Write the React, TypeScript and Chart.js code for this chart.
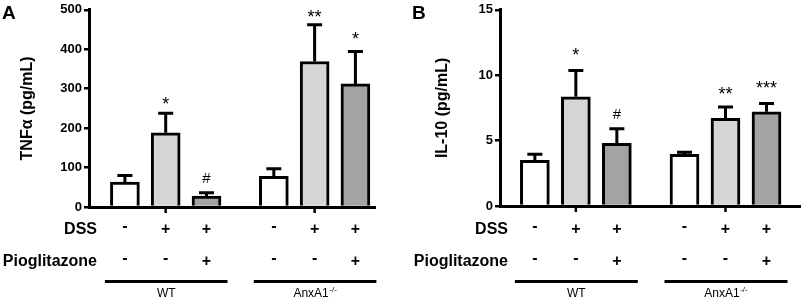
import { useEffect, useRef } from 'react';
import { Chart, registerables } from 'chart.js';

Chart.register(...registerables);

const FONT = '"Liberation Sans", Arial, Helvetica, sans-serif';

// Shared categories
const dssRow = ['-', '+', '+', '-', '+', '+'];
const pioRow = ['-', '-', '+', '-', '-', '+'];
const groupNames = ['WT', 'AnxA1'];
const groupSups = ['', '-/-'];
const barColors = ['#ffffff', '#d5d5d5', '#a3a3a3', '#ffffff', '#d5d5d5', '#a3a3a3'];

// Panel A: TNFα
const tnfValues = [63, 188, 28, 78, 369, 312];
const tnfErrors = [17, 50, 8, 19, 93, 82];
const tnfMarks = ['', '*', '#', '', '**', '*'];
const tnfMarkAt = [0, 261, 60, 0, 482, 426];

// Panel B: IL-10
const il10Values = [3.5, 8.35, 4.8, 3.95, 6.7, 7.2];
const il10Errors = [0.45, 2.0, 1.1, 0.15, 0.87, 0.63];
const il10Marks = ['', '*', '#', '', '**', '***'];
const il10MarkAt = [0, 11.57, 6.67, 0, 8.58, 9.02];

type PanelProps = {
  left: number;
  width: number;
  letter: string;
  letterX: number;
  title: string;
  titleX: number;
  values: number[];
  errors: number[];
  marks: string[];
  markAt: number[];
  yMax: number;
  yStep: number;
  axisX: number;
  zeroY: number;
  areaRight: number;
  unitPx: number;
  offset: number;
  groupGap: number;
};

function Panel(p: PanelProps) {
  const ref = useRef<HTMLCanvasElement>(null);
  useEffect(() => {
    const canvas = ref.current;
    if (!canvas) return;
    const xs = p.values.map((_, i) => p.offset + (i % 3) + Math.floor(i / 3) * (3 + p.groupGap));
    const xMax = (p.areaRight - p.axisX) / p.unitPx;

    const overlay = {
      id: 'overlay',
      afterDraw(chart: any) {
        const ctx: CanvasRenderingContext2D = chart.ctx;
        const y = chart.scales.y;
        const area = chart.chartArea;
        const bars = chart.getDatasetMeta(0).data;
        ctx.save();
        ctx.fillStyle = '#000';
        ctx.strokeStyle = '#000';

        // error bars
        ctx.lineWidth = 3;
        ctx.lineCap = 'butt';
        p.values.forEach((v, i) => {
          const bx = bars[i].x;
          const yb = y.getPixelForValue(v);
          const yt = y.getPixelForValue(v + p.errors[i]);
          ctx.beginPath();
          ctx.moveTo(bx, yb);
          ctx.lineTo(bx, yt);
          ctx.moveTo(bx - 7.5, yt);
          ctx.lineTo(bx + 7.5, yt);
          ctx.stroke();
        });

        // significance marks
        ctx.textAlign = 'center';
        ctx.textBaseline = 'alphabetic';
        p.marks.forEach((m, i) => {
          if (!m) return;
          ctx.font = m === '#' ? `15px ${FONT}` : `18px ${FONT}`;
          const met = ctx.measureText(m);
          const gb = y.getPixelForValue(p.markAt[i]);
          ctx.fillText(m, bars[i].x, gb - met.actualBoundingBoxDescent);
        });

        // group tick marks below axis
        ctx.lineWidth = 2.5;
        for (let g = 0; g < 2; g++) {
          const cx = bars[g * 3 + 1].x;
          ctx.beginPath();
          ctx.moveTo(cx, area.bottom);
          ctx.lineTo(cx, area.bottom + 6);
          ctx.stroke();
        }

        // row labels
        ctx.font = `bold 16px ${FONT}`;
        ctx.textAlign = 'right';
        ctx.fillText('DSS', p.axisX + 8, 234);
        ctx.fillText('Pioglitazone', p.axisX + 8, 266);
        ctx.textAlign = 'center';
        dssRow.forEach((s, i) => {
          ctx.fillText(s, bars[i].x, s === '-' ? 231 : 234);
        });
        pioRow.forEach((s, i) => {
          ctx.fillText(s, bars[i].x, s === '-' ? 263 : 266);
        });

        // group lines and labels
        ctx.lineWidth = 3;
        for (let g = 0; g < 2; g++) {
          const x0 = bars[g * 3].x - 20;
          const x1 = bars[g * 3 + 2].x + 21;
          ctx.beginPath();
          ctx.moveTo(x0, 281.5);
          ctx.lineTo(x1, 281.5);
          ctx.stroke();
          const cx = (x0 + x1) / 2;
          ctx.font = `12px ${FONT}`;
          const w1 = ctx.measureText(groupNames[g]).width;
          ctx.font = `8px ${FONT}`;
          const w2 = groupSups[g] ? ctx.measureText(groupSups[g]).width + 0.5 : 0;
          const start = cx - (w1 + w2) / 2;
          ctx.textAlign = 'left';
          ctx.font = `12px ${FONT}`;
          ctx.fillText(groupNames[g], start, 297);
          if (groupSups[g]) {
            ctx.font = `8px ${FONT}`;
            ctx.fillText(groupSups[g], start + w1 + 0.5, 292);
          }
          ctx.textAlign = 'center';
        }

        // y title
        ctx.save();
        ctx.translate(p.titleX, (area.top + area.bottom) / 2);
        ctx.rotate(-Math.PI / 2);
        ctx.font = `bold 16px ${FONT}`;
        ctx.textAlign = 'center';
        ctx.textBaseline = 'middle';
        ctx.fillText(p.title, 0, 0);
        ctx.restore();

        // panel letter
        ctx.font = `bold 19px ${FONT}`;
        ctx.textAlign = 'left';
        ctx.textBaseline = 'alphabetic';
        ctx.fillText(p.letter, p.letterX, 19);
        ctx.restore();
      },
    };

    const chart = new Chart(canvas, {
      type: 'bar',
      data: {
        datasets: [
          {
            data: xs.map((x, i) => ({ x, y: p.values[i] })),
            backgroundColor: barColors,
            borderColor: '#000',
            borderWidth: 3,
            borderSkipped: 'start',
            barThickness: 29,
          } as any,
        ],
      },
      options: {
        responsive: false,
        animation: false,
        devicePixelRatio: 1,
        layout: { padding: { left: 0, right: p.width - p.areaRight, top: 8, bottom: 301 - p.zeroY } },
        plugins: { legend: { display: false }, tooltip: { enabled: false }, title: { display: false } },
        scales: {
          x: {
            type: 'linear',
            min: 0,
            max: xMax,
            offset: false,
            z: 1,
            afterFit: (s: any) => {
              s.height = 0;
            },
            ticks: { display: false },
            grid: { display: false },
            border: { display: true, color: '#000', width: 3 },
          },
          y: {
            min: 0,
            max: p.yMax,
            afterFit: (s: any) => {
              s.width = p.axisX;
            },
            ticks: {
              stepSize: p.yStep,
              color: '#000',
              padding: 2,
              font: { family: FONT, size: 13, weight: 'bold' },
            },
            grid: { drawOnChartArea: false, drawTicks: true, tickLength: 5, tickColor: '#000', lineWidth: 2.5 },
            border: { display: true, color: '#000', width: 3 },
          },
        },
      } as any,
      plugins: [overlay],
    });
    return () => chart.destroy();
  }, []);
  return (
    <canvas
      ref={ref}
      width={p.width}
      height={301}
      style={{ position: 'absolute', left: p.left, top: 0, width: p.width, height: 301 }}
    />
  );
}

export default function App() {
  return (
    <div style={{ position: 'fixed', left: 0, top: 0, width: 803, height: 301, background: '#fff' }}>
      <Panel
        left={0}
        width={400}
        letter="A"
        letterX={2}
        title="TNFα (pg/mL)"
        titleX={28}
        values={tnfValues}
        errors={tnfErrors}
        marks={tnfMarks}
        markAt={tnfMarkAt}
        yMax={500}
        yStep={100}
        axisX={89}
        zeroY={207}
        areaRight={375}
        unitPx={40.8}
        offset={0.88}
        groupGap={0.65}
      />
      <Panel
        left={400}
        width={403}
        letter="B"
        letterX={12}
        title="IL-10 (pg/mL)"
        titleX={43}
        values={il10Values}
        errors={il10Errors}
        marks={il10Marks}
        markAt={il10MarkAt}
        yMax={15}
        yStep={5}
        axisX={100}
        zeroY={206}
        areaRight={400}
        unitPx={41}
        offset={0.85}
        groupGap={0.65}
      />
    </div>
  );
}
